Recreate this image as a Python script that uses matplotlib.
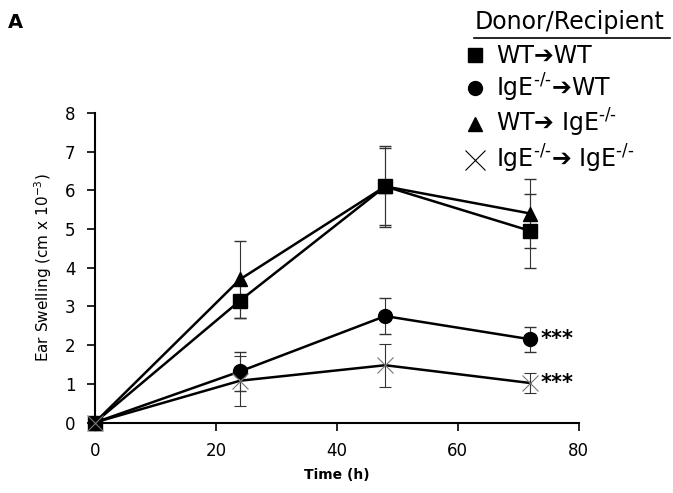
import matplotlib.pyplot as plt
from matplotlib.lines import Line2D

time_h = [0, 24, 48, 72]

wt_wt = [0, 3.15, 6.1, 4.95]
wt_wt_err = [0, 0.45, 1.0, 0.95]
ige_wt = [0, 1.32, 2.75, 2.15]
ige_wt_err = [0, 0.5, 0.47, 0.33]
wt_ige = [0, 3.7, 6.1, 5.4]
wt_ige_err = [0, 1.0, 1.05, 0.9]
ige_ige = [0, 1.08, 1.48, 1.02]
ige_ige_err = [0, 0.65, 0.55, 0.25]

ko = r'$^{\text{-/-}}$'
labels = ['WT➔WT', 'IgE' + ko + '➔WT', 'WT➔ IgE' + ko, 'IgE' + ko + '➔ IgE' + ko]

plt.rcParams['font.family'] = ['DejaVu Sans']

fig = plt.figure(figsize=(6.73, 4.93), dpi=100)
ax = fig.add_axes([0.141, 0.143, 0.719, 0.628])

series = [
    (wt_wt, wt_wt_err, 's', 10, 'black'),
    (ige_wt, ige_wt_err, 'o', 10, 'black'),
    (wt_ige, wt_ige_err, '^', 10, 'black'),
    (ige_ige, ige_ige_err, 'x', 12, '#777777'),
]
for y, e, m, ms, mc in series:
    ax.errorbar(time_h, y, yerr=e, color='black', lw=1.8, marker=m, ms=ms,
                mfc=mc, mec=mc, mew=0.8 if m == 'x' else 1,
                ecolor='#333333', elinewidth=0.8, capsize=4, capthick=0.8,
                clip_on=False, zorder=3)

ax.text(73.6, ige_wt[-1], '***', fontsize=15, fontweight='bold', va='center', ha='left')
ax.text(73.6, ige_ige[-1], '***', fontsize=15, fontweight='bold', va='center', ha='left')

ax.set_xlim(0, 80)
ax.set_ylim(0, 8)
ax.set_xticks([0, 20, 40, 60, 80])
ax.set_yticks(range(9))
ax.spines['top'].set_visible(False)
ax.spines['right'].set_visible(False)
ax.spines['left'].set_linewidth(1.5)
ax.spines['bottom'].set_linewidth(1.5)
ax.tick_params(direction='out', length=6, width=1.2, labelsize=12, pad=8)
ax.set_xlabel('Time (h)', fontsize=10, fontweight='bold', labelpad=6)
ax.set_ylabel('Ear Swelling (cm x 10$^{-3}$)', fontsize=11, labelpad=8)

fig.text(0.012, 0.955, 'A', fontsize=14, fontweight='bold', va='center')

# legend
fig.text(0.705, 0.955, 'Donor/Recipient', fontsize=17, va='center', ha='left')
fig.add_artist(Line2D([0.705, 0.995], [0.922, 0.922], color='black', lw=1.2))
handles = [Line2D([], [], ls='none', marker=m, ms=ms, mfc=mc, mec=mc,
                  mew=0.8 if m == 'x' else 1) for _, _, m, ms, mc in series]
handles[3] = Line2D([], [], ls='none', marker='x', ms=14, mec='black', mew=0.8)
fig.legend(handles, labels, loc='upper left', bbox_to_anchor=(0.677, 0.93),
           frameon=False, fontsize=17, handlelength=0.8, handletextpad=0.5,
           labelspacing=0.15, borderaxespad=0)

fig.savefig('out.png', dpi=100)
